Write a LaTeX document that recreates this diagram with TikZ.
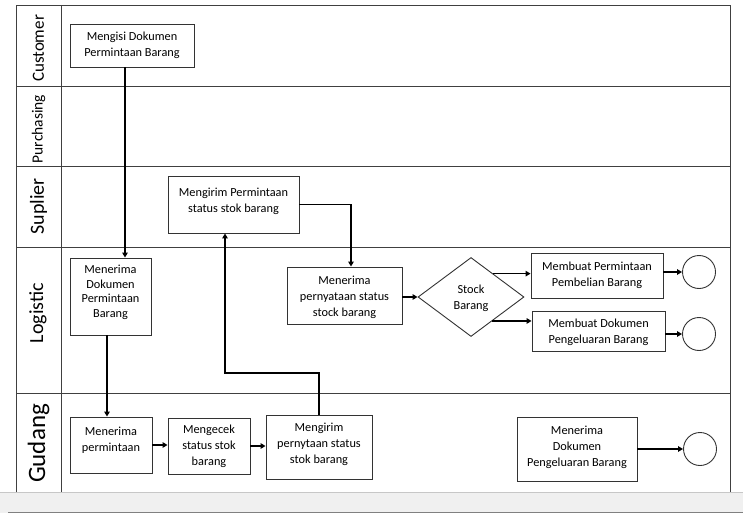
\documentclass[tikz,border=0pt]{standalone}
\usepackage{fontspec}
\setmainfont{Carlito}
\usetikzlibrary{shapes.geometric,arrows.meta,calc}
\begin{document}
\begin{tikzpicture}[x=1pt,y=-1pt,
  lane/.style={draw=black!75, line width=0.9pt},
  boxframe/.style={draw=black!80, line width=0.9pt, fill=white, inner sep=0pt},
  boxtext/.style={align=center, font=\fontsize{12.3}{16}\selectfont, inner sep=0pt, text=black},
  arr/.style={draw=black, line width=1.6pt, -{Triangle[length=5pt,width=5.5pt]}},
  endc/.style={circle, draw=black!80, line width=0.9pt, minimum size=33pt, inner sep=0pt},
  lanelabel/.style={rotate=90, inner sep=0pt, text=black}]

\useasboundingbox (0,0) rectangle (743,513);
\fill[white] (0,0) rectangle (743,513);
% window bar at bottom
\fill[black!6] (0,492) rectangle (743,513);
\draw[black!22, line width=0.8pt] (0,492) -- (743,492);
\draw[black!50, line width=1pt] (8,512) -- (743,512);

% swimlane frame
\draw[lane] (16,492) -- (16,5) -- (730,5) -- (730,492);
\draw[lane] (61,5) -- (61,492);
\foreach \yy in {86,166,247,393} \draw[lane] (16,\yy) -- (730,\yy);

% lane labels
\node[lanelabel, font=\fontsize{17}{17}\selectfont] (lcus) at (38.5,48.5) {Customer};
\node[lanelabel, font=\fontsize{15.5}{16}\selectfont] (lpur) at (38.5,129) {Purchasing};
\node[lanelabel, font=\fontsize{20}{20}\selectfont] (lsup) at (38.5,206.5) {Suplier};
\node[lanelabel, font=\fontsize{20}{20}\selectfont] (llog) at (38,313) {Logistic};
\node[lanelabel, font=\fontsize{25}{25}\selectfont] (lgud) at (38.5,443.5) {Gudang};

% boxes
\node[boxframe, minimum width=124pt, minimum height=43pt] (b1) at (132,45.5) {};
\node[boxtext] (t1) at (132,45) {Mengisi Dokumen\\Permintaan Barang};

\node[boxframe, minimum width=131pt, minimum height=57pt] (b6) at (233.5,204.5) {};
\node[boxtext] (t6) at (233.5,201) {Mengirim Permintaan\\status stok barang};

\node[boxframe, minimum width=81pt, minimum height=77pt] (b2) at (110.5,296.5) {};
\node[boxtext, font=\fontsize{12.3}{14.5}\selectfont] (t2) at (110.5,292.5) {Menerima\\Dokumen\\Permintaan\\Barang};

\node[boxframe, minimum width=82pt, minimum height=56pt] (b3) at (111,445) {};
\node[boxtext] (t3) at (111,440.5) {Menerima\\permintaan};

\node[boxframe, minimum width=82pt, minimum height=56pt] (b4) at (209,446) {};
\node[boxtext] (t4) at (209,446) {Mengecek\\status stok\\barang};

\node[boxframe, minimum width=106pt, minimum height=64pt] (b5) at (319,447) {};
\node[boxtext] (t5) at (319,444) {Mengirim\\pernytaan status\\stok barang};

\node[boxframe, minimum width=115pt, minimum height=57pt] (b7) at (344.5,295.5) {};
\node[boxtext] (t7) at (344.5,297) {Menerima\\pernyataan status\\stock barang};

\node[boxframe, diamond, minimum width=106pt, minimum height=79pt] (d) at (471,297) {};
\node[boxtext] (td) at (471,298) {Stock\\Barang};

\node[boxframe, minimum width=132pt, minimum height=45pt] (b8) at (597,275.5) {};
\node[boxtext] (t8) at (597,275) {Membuat Permintaan\\Pembelian Barang};

\node[boxframe, minimum width=133pt, minimum height=40pt] (b9) at (598.5,331) {};
\node[boxtext] (t9) at (598.5,332.5) {Membuat Dokumen\\Pengeluaran Barang};

\node[boxframe, minimum width=120pt, minimum height=64pt] (b10) at (577,449) {};
\node[boxtext] (t10) at (577,447) {Menerima\\Dokumen\\Pengeluaran Barang};

\node[endc] (c1) at (699,272) {};
\node[endc] (c2) at (699,334) {};
\node[endc] (c3) at (700,449) {};

% connectors
\coordinate (x1) at (125,0);
\coordinate (x2) at (107,0);
\coordinate (k1) at (225,373);
\coordinate (k2) at (351,204);
\draw[arr] (b1.south -| x1) -- (b2.north -| x1);
\draw[arr] (b2.south -| x2) -- (b3.north -| x2);
\draw[arr] (b3.east) -- (b3.east -| b4.west);
\draw[arr] (b4.east) -- (b4.east -| b5.west);
\draw[arr] (b5.north) |- (k1) -- (b6.south -| k1);
\draw[arr] (b6.east) -| (b7.north -| k2);
\draw[arr] (b7.east |- d.west) -- (d.west);
\coordinate (p1) at ($(d.north)!0.415!(d.east)$);
\coordinate (p2) at ($(d.east)!0.6!(d.south)$);
\draw[arr] (p1) -- (p1 -| b8.west);
\draw[arr] (p2) -- (p2 -| b9.west);
\draw[arr] (b8.east |- c1) -- (c1.west);
\draw[arr] (b9.east |- c2) -- (c2.west);
\draw[arr] (b10.east) -- (b10.east -| c3.west);
\end{tikzpicture}
\end{document}
